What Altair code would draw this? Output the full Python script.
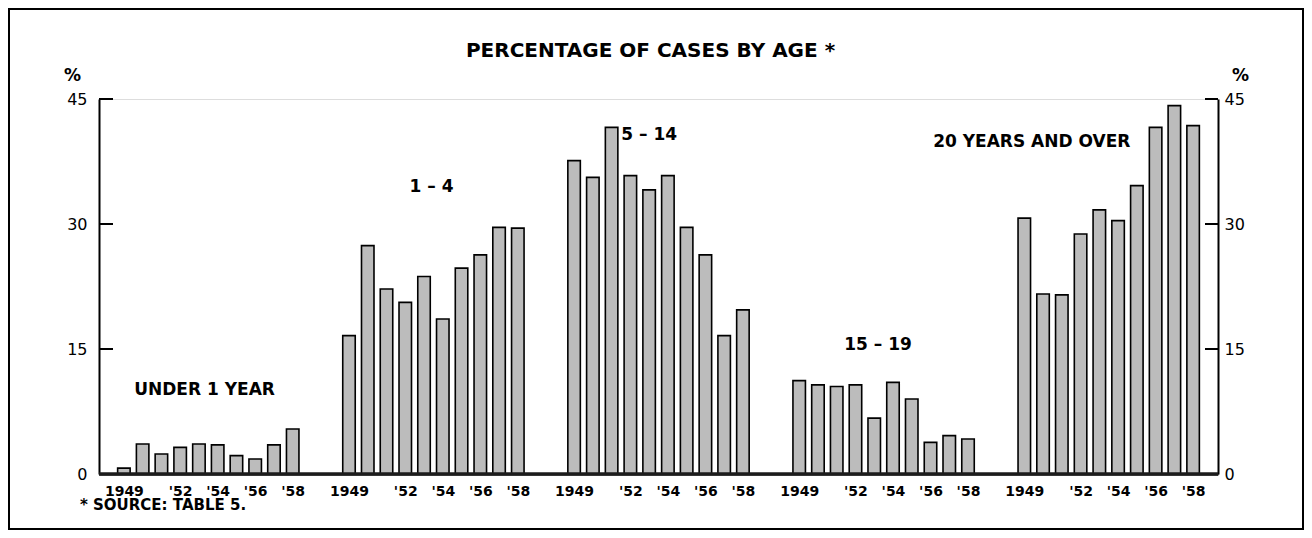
import altair as alt
import pandas as pd

# ---- data ----
years = list(range(1949, 1959))
groups = ["UNDER 1 YEAR", "1 – 4", "5 – 14", "15 – 19", "20 YEARS AND OVER"]
under_1 = [0.7, 3.6, 2.4, 3.2, 3.6, 3.5, 2.2, 1.8, 3.5, 5.4]
age_1_4 = [16.6, 27.4, 22.2, 20.6, 23.7, 18.6, 24.7, 26.3, 29.6, 29.5]
age_5_14 = [37.6, 35.6, 41.6, 35.8, 34.1, 35.8, 29.6, 26.3, 16.6, 19.7]
age_15_19 = [11.2, 10.7, 10.5, 10.7, 6.7, 11.0, 9.0, 3.8, 4.6, 4.2]
age_20_over = [30.7, 21.6, 21.5, 28.8, 31.7, 30.4, 34.6, 41.6, 44.2, 41.8]
series = [under_1, age_1_4, age_5_14, age_15_19, age_20_over]

tick_years = [1949, 1952, 1954, 1956, 1958]
tick_labels = ["1949", "'52", "'54", "'56", "'58"]
y_ticks = [0, 15, 30, 45]
title_text = "PERCENTAGE OF CASES BY AGE *"
footnote = "* SOURCE: TABLE 5."

# group label anchor (slot, value)
label_slot = [4.3, 16.4, 28.0, 40.2, 48.4]
label_value = [10.1, 34.4, 40.7, 15.5, 39.8]

SLOTS_PER_GROUP = 12

rows = []
for g, vals in enumerate(series):
    for i, (yr, v) in enumerate(zip(years, vals)):
        rows.append({"group": groups[g], "year": yr, "value": v,
                     "slot": g * SLOTS_PER_GROUP + i})
df = pd.DataFrame(rows)

lab_df = pd.DataFrame({"text": groups, "slot": label_slot, "value": label_value})
tick_df = pd.DataFrame({"t": y_ticks})
one_df = pd.DataFrame({"title": [title_text], "foot": [footnote]})

# x axis labels
x_vals = []
for g in range(len(groups)):
    for yr in tick_years:
        x_vals.append(g * SLOTS_PER_GROUP + (yr - years[0]))
expr = "''"
for yr, lab in zip(tick_years, tick_labels):
    r = yr - years[0]
    lab_js = lab.replace("'", "\\'")
    expr = f"(datum.value % {SLOTS_PER_GROUP} == {r}) ? '{lab_js}' : " + expr

W, H = 1119, 375
FONT = "DejaVu Sans"
x_scale = alt.Scale(domain=[-1.06, 58.06], nice=False, zero=False)
y_scale = alt.Scale(domain=[0, 45], nice=False)

x_axis = alt.Axis(
    orient="bottom",
    values=x_vals, labelExpr=expr, ticks=False, grid=False,
    domain=True, domainColor="black", domainWidth=2,
    labelFont=FONT, labelFontSize=14, labelFontWeight="bold",
    labelColor="black", labelPadding=10, labelFlush=False,
    title=None)

bars = alt.Chart(df).mark_bar(
    size=12.5, fill="#bcbcbc", stroke="black", strokeWidth=1.6
).encode(
    x=alt.X("slot:Q", scale=x_scale, axis=x_axis),
    y=alt.Y("value:Q", scale=y_scale, axis=None),
)

labels = alt.Chart(lab_df).mark_text(
    font=FONT, fontSize=17, fontWeight="bold", color="black",
    align="center", baseline="middle"
).encode(
    x=alt.X("slot:Q", scale=x_scale, axis=x_axis),
    y=alt.Y("value:Q", scale=y_scale, axis=None),
    text="text:N",
)

baseline = alt.Chart(one_df).mark_rule(color="#1c1c1c", strokeWidth=3.5).encode(
    y=alt.value(H), x=alt.value(0), x2=alt.value(W),
)

left_ticks = alt.Chart(tick_df).mark_rule(color="black", strokeWidth=2).encode(
    y=alt.Y("t:Q", scale=y_scale, axis=alt.Axis(
        orient="left", values=y_ticks, ticks=False, grid=False,
        domainColor="black", domainWidth=2,
        labelFont=FONT, labelFontSize=16, labelColor="black", labelPadding=12,
        title="%", titleAngle=0, titleFont=FONT, titleFontSize=17,
        titleFontWeight="bold", titleColor="black", titleX=-27, titleY=-24,
        titleAlign="center", titleBaseline="middle")),
    x=alt.value(0), x2=alt.value(14),
)

right_ticks = alt.Chart(tick_df).mark_rule(color="black", strokeWidth=2).encode(
    y=alt.Y("t:Q", scale=y_scale, axis=alt.Axis(
        orient="right", values=y_ticks, ticks=False, grid=False,
        domainColor="black", domainWidth=2,
        labelFont=FONT, labelFontSize=16, labelColor="black", labelPadding=6,
        title="%", titleAngle=0, titleFont=FONT, titleFontSize=17,
        titleFontWeight="bold", titleColor="black", titleX=22, titleY=-24,
        titleAlign="center", titleBaseline="middle")),
    x=alt.value(W - 13), x2=alt.value(W),
)

title = alt.Chart(one_df).mark_text(
    font=FONT, fontSize=20, fontWeight="bold", color="black",
    align="center", baseline="alphabetic"
).encode(x=alt.value(W / 2 - 8), y=alt.value(-42), text="title:N")

foot = alt.Chart(one_df).mark_text(
    font=FONT, fontSize=15, fontWeight="bold", color="black",
    align="left", baseline="middle"
).encode(x=alt.value(-19), y=alt.value(H + 31), text="foot:N")

frame = alt.Chart(one_df).mark_rect(
    filled=False, fill="transparent", stroke="black", strokeWidth=2
).encode(
    x=alt.value(-90), x2=alt.value(W + 85),
    y=alt.value(-90), y2=alt.value(H + 55),
)

chart = alt.layer(
    bars, labels, left_ticks, right_ticks, title, foot, frame, baseline
).resolve_axis(
    y="independent"
).properties(
    width=W, height=H,
    autosize=alt.AutoSizeParams(type="none"),
    padding={"left": 91, "top": 91, "right": 86, "bottom": 56},
).configure_axis(grid=False).configure_view(
    stroke="transparent", strokeWidth=0
).configure(background="white")

chart.save("out.html", embed_options={"renderer": "svg", "actions": False})
